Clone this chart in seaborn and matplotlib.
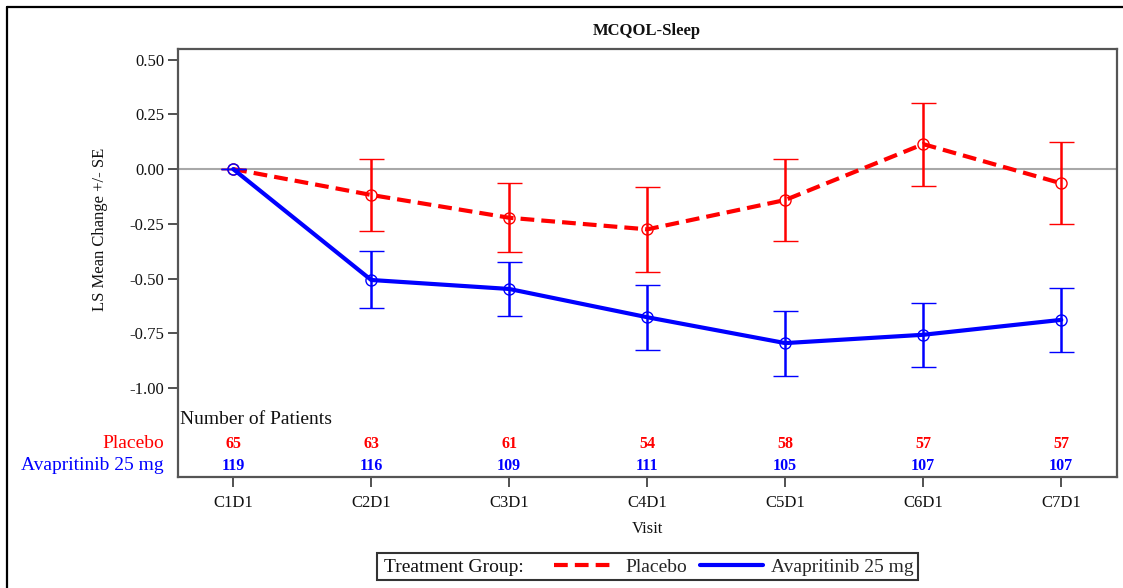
import matplotlib
matplotlib.use("Agg")
import matplotlib.pyplot as plt
import matplotlib.transforms as mtransforms
from matplotlib.patches import Rectangle
from matplotlib.lines import Line2D
import numpy as np
import pandas as pd
import seaborn as sns

# Visits and treatment groups
visits = ["C1D1", "C2D1", "C3D1", "C4D1", "C5D1", "C6D1", "C7D1"]
groups = ["Placebo", "Avapritinib 25 mg"]

# LS mean change from baseline and standard errors
placebo_mean = [0.00, -0.118, -0.222, -0.275, -0.141, 0.114, -0.065]
placebo_se = [0.00, 0.165, 0.158, 0.194, 0.187, 0.189, 0.187]
avap_mean = [0.00, -0.506, -0.547, -0.676, -0.794, -0.756, -0.688]
avap_se = [0.00, 0.130, 0.123, 0.148, 0.148, 0.147, 0.145]

# Number of patients at each visit
placebo_n = [65, 63, 61, 54, 58, 57, 57]
avap_n = [119, 116, 109, 111, 105, 107, 107]

y_ticks = [0.50, 0.25, 0.00, -0.25, -0.50, -0.75, -1.00]

colors = {"Placebo": "#FF0000", "Avapritinib 25 mg": "#0000FF"}

sns.set_theme(style="white")
plt.rcParams["font.family"] = ["Liberation Serif", "DejaVu Serif"]
plt.rcParams["axes.unicode_minus"] = False

W, H = 1123, 588
fig = plt.figure(figsize=(W / 100, H / 100), dpi=100)
fig.patch.set_facecolor("white")

def fx(px):
    return px / W

def fy(py):
    return 1 - py / H

ax_l, ax_r, ax_t, ax_b = 178, 1117, 49, 477
ax = fig.add_axes([fx(ax_l), fy(ax_b), fx(ax_r - ax_l), (ax_b - ax_t) / H])

df = pd.DataFrame({
    "Visit": visits * 2,
    "LS Mean": placebo_mean + avap_mean,
    "SE": placebo_se + avap_se,
    "Group": [groups[0]] * len(visits) + [groups[1]] * len(visits),
})

# Reference line at zero
ax.axhline(0, color="#A8A8A8", lw=1.5, zorder=1)

xpos = np.arange(len(visits))

for k, g in enumerate(groups):
    sub = df[df["Group"] == g]
    sns.lineplot(
        data=sub, x="Visit", y="LS Mean", color=colors[g], sort=False,
        lw=3.0, ax=ax, legend=False, zorder=3 + 2 * k,
        dashes=False, errorbar=None,
    )
    if g == "Placebo":
        ax.lines[-1].set_dashes((3.3, 1.7))
    else:
        ax.lines[-1].set_linestyle("-")
    ax.errorbar(
        xpos, sub["LS Mean"].to_numpy(), yerr=sub["SE"].to_numpy(),
        fmt="o", color=colors[g], mfc="none", mec=colors[g], ms=8, mew=1.0,
        elinewidth=1.8, capsize=9, capthick=1.8, zorder=2 + 2 * k,
    )

ax.set_xlim(-0.4, 6.404)
ax.set_ylim(-1.405, 0.548)
ax.set_yticks(y_ticks)
ax.set_yticklabels([f"{v:.2f}" for v in y_ticks])
ax.set_xticks(xpos)
ax.set_xticklabels(visits)
ax.set_xlabel("")
ax.set_ylabel("")
ax.tick_params(axis="both", direction="out", length=7, width=1.2, color="#333333",
               labelsize=12, labelcolor="#111111", bottom=True, left=True)
ax.tick_params(axis="x", pad=6)
ax.tick_params(axis="y", pad=3)
for s in ax.spines.values():
    s.set_visible(True)
    s.set_color("#555555")
    s.set_linewidth(1.6)

# Patient counts table inside the bottom of the plot area
trans = mtransforms.blended_transform_factory(ax.transData, ax.transAxes)
trans_ax = ax.transAxes
row_y = {"Placebo": (ax_b - 444) / (ax_b - ax_t), "Avapritinib 25 mg": (ax_b - 466) / (ax_b - ax_t)}
counts = {"Placebo": placebo_n, "Avapritinib 25 mg": avap_n}
ax.text((180 - ax_l) / (ax_r - ax_l), (ax_b - 420) / (ax_b - ax_t), "Number of Patients",
        transform=trans_ax, ha="left", va="center", fontsize=14, color="#111111")
for g in groups:
    for i, n in enumerate(counts[g]):
        ax.text(i, row_y[g], str(n), transform=trans, ha="center", va="center",
                fontsize=11.5, fontweight="bold", color=colors[g])
    ax.text((164 - ax_l) / (ax_r - ax_l), row_y[g], g, transform=trans_ax, ha="right",
            va="center", fontsize=14, color=colors[g], clip_on=False)

# Titles and axis labels
fig.text(fx(647), fy(31), "MCQOL-Sleep", ha="center", va="center", fontsize=12,
         fontweight="bold", color="#111111")
fig.text(fx(100), fy(229), "LS Mean Change +/- SE", rotation=90, ha="center", va="center",
         fontsize=12, color="#111111")
fig.text(fx(647), fy(529), "Visit", ha="center", va="center", fontsize=12, color="#111111")

# Legend box
fig.add_artist(Rectangle((fx(377), fy(580)), fx(918 - 377), 27 / H, transform=fig.transFigure,
                         fill=False, ec="#333333", lw=1.5))
fig.text(fx(384), fy(567), "Treatment Group:", ha="left", va="center", fontsize=14, color="#111111")
handles = [
    Line2D([], [], color=colors["Placebo"], lw=3.0, dashes=(3.3, 1.7)),
    Line2D([], [], color=colors["Avapritinib 25 mg"], lw=3.0),
]
fig.legend(handles, groups, loc="center left", bbox_to_anchor=(fx(554), fy(567)),
           ncol=2, frameon=False, fontsize=14, handlelength=3.2, handletextpad=0.45,
           columnspacing=0.7, borderpad=0, borderaxespad=0)

# Outer frame edges
fig.add_artist(Line2D([fx(7), 1], [fy(7), fy(7)], transform=fig.transFigure, color="black", lw=1.6))
fig.add_artist(Line2D([fx(7), fx(7)], [fy(7), 0], transform=fig.transFigure, color="black", lw=1.6))

fig.savefig("out.png", dpi=100, facecolor="white")
